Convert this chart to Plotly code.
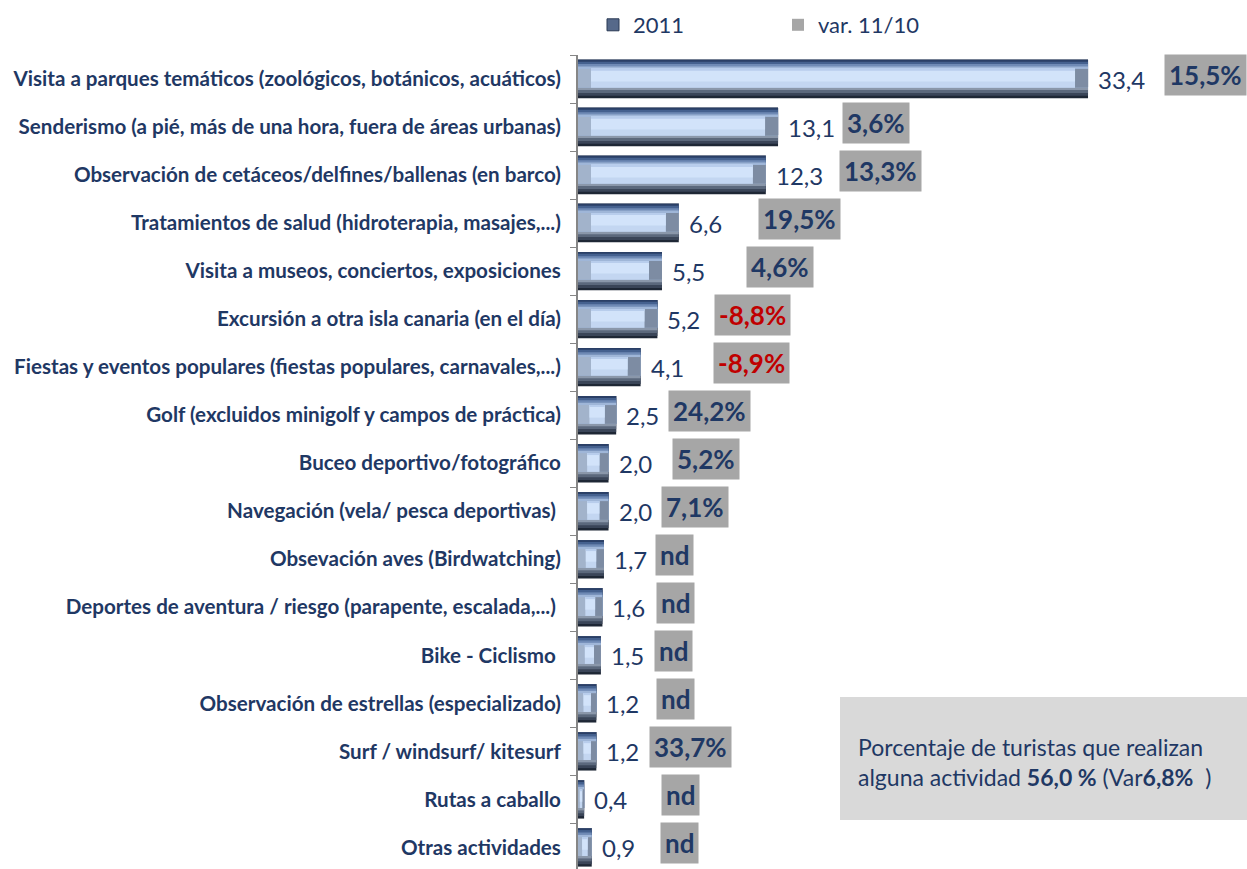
import plotly.graph_objects as go

categories = [
    "Visita a parques temáticos (zoológicos, botánicos, acuáticos)",
    "Senderismo (a pié, más de una hora, fuera de áreas urbanas)",
    "Observación de cetáceos/delfines/ballenas (en barco)",
    "Tratamientos de salud (hidroterapia, masajes,...)",
    "Visita a museos, conciertos, exposiciones",
    "Excursión a otra isla canaria (en el día)",
    "Fiestas y eventos populares (fiestas populares, carnavales,...)",
    "Golf (excluidos minigolf y campos de práctica)",
    "Buceo deportivo/fotográfico",
    "Navegación (vela/ pesca deportivas) ",
    "Obsevación aves (Birdwatching)",
    "Deportes de aventura / riesgo (parapente, escalada,...) ",
    "Bike - Ciclismo ",
    "Observación de estrellas (especializado)",
    "Surf / windsurf/ kitesurf",
    "Rutas a caballo",
    "Otras actividades",
]
values_2011 = [33.4, 13.1, 12.3, 6.6, 5.5, 5.2, 4.1, 2.5, 2.0, 2.0, 1.7, 1.6, 1.5, 1.2, 1.2, 0.4, 0.9]
var_11_10 = [15.5, 3.6, 13.3, 19.5, 4.6, -8.8, -8.9, 24.2, 5.2, 7.1, None, None, None, None, 33.7, None, None]

# styling / placement (pixels) of the var. labels relative to the bar end
var_label_shift_px = [117, 98, 115, 121, 118, 95, 111, 93, 97, 86, 71, 73, 73, 79, 94, 96, 88]

NAVY = "#1F3864"
FONT = "Lato"
PX_PER_UNIT = 15.27
X_MAX = 669 / PX_PER_UNIT

def fmt(v):
    return f"{v:.1f}".replace(".", ",")

fig = go.Figure()

def add_band(xs, a, b, col, base=None):
    fig.add_trace(go.Bar(
        y=categories, x=xs, base=base, orientation="h",
        offset=-0.4 + a, width=b - a,
        marker=dict(color=col, line=dict(width=0)),
        hoverinfo="skip", showlegend=False,
    ))

# bevel-like bar built from nested, overlapping strips (no seams)
for b, col in [(0.80, "#1e2735"), (0.75, "#3a4558"), (0.69, "#5b687c"), (0.63, "#8a97aa")]:
    add_band(values_2011, 0.0, b, col)
for a, col in [(0.0, "#2a3f66"), (0.04, "#45618f"), (0.09, "#6f8ab5"), (0.14, "#9fb6d8")]:
    add_band(values_2011, a, 0.58, col)
add_band(values_2011, 0.19, 0.58, "#a2b3cb")

insets = [min(13 / PX_PER_UNIT, 0.3 * v) for v in values_2011]
# darker right bevel
add_band(insets, 0.19, 0.58, "#7d8ca3", base=[v - i for v, i in zip(values_2011, insets)])
# light inner panel
inner = [v - 2 * i for v, i in zip(values_2011, insets)]
add_band(inner, 0.19, 0.58, "#c3d6f1", base=insets)
add_band(inner, 0.19, 0.45, "#d2e3fa", base=insets)
add_band(inner, 0.19, 0.23, "#b8cdec", base=insets)

# legend entries
fig.add_trace(go.Bar(x=[None], y=[None], orientation="h", name="2011",
                     marker=dict(color="#56698a", line=dict(color="#2a3a55", width=1))))
fig.add_trace(go.Bar(x=[None], y=[None], orientation="h", name="var. 11/10",
                     marker=dict(color="#A6A6A6", line=dict(width=0))))

annotations = []
for cat, v in zip(categories, values_2011):
    annotations.append(dict(
        x=v, y=cat, xref="x", yref="y", text=fmt(v), showarrow=False,
        xanchor="left", xshift=8, font=dict(family=FONT, size=24, color=NAVY),
    ))
for cat, v, var, sh in zip(categories, values_2011, var_11_10, var_label_shift_px):
    if var is None:
        txt, col = "nd", NAVY
    else:
        txt = fmt(var) + "%"
        col = "#C00000" if var < 0 else NAVY
    annotations.append(dict(
        x=v, y=cat, xref="x", yref="y", text=f"<b>{txt}</b>", showarrow=False,
        xanchor="center", xshift=sh, yshift=4,
        font=dict(family=FONT, size=26, color=col),
        bgcolor="#A6A6A6", borderpad=4,
    ))

# info box
H = 814.0
def py(p):
    return (869 - p) / H
annotations.append(dict(
    x=(856 - 578) / 669, y=py(747), xref="paper", yref="paper",
    text="Porcentaje de turistas que realizan", showarrow=False,
    xanchor="left", yanchor="middle", font=dict(family=FONT, size=23, color=NAVY),
))
annotations.append(dict(
    x=(856 - 578) / 669, y=py(777), xref="paper", yref="paper",
    text="alguna actividad <b>56,0 %</b> (Var<b>6,8%</b>  )", showarrow=False,
    xanchor="left", yanchor="middle", font=dict(family=FONT, size=23, color=NAVY),
))

fig.update_layout(
    width=1247, height=869, autosize=False,
    margin=dict(l=578, r=0, t=55, b=0, pad=0),
    paper_bgcolor="white", plot_bgcolor="white",
    barmode="overlay",
    font=dict(family=FONT, color=NAVY),
    showlegend=True,
    legend=dict(orientation="h", x=15 / 669, xanchor="left", y=1 + 30 / H, yanchor="middle",
                font=dict(family=FONT, size=22, color=NAVY),
                entrywidth=140, entrywidthmode="pixels", traceorder="normal",
                bgcolor="rgba(0,0,0,0)"),
    xaxis=dict(range=[0, X_MAX], showgrid=False, zeroline=False, showline=False,
               showticklabels=False, ticks="", fixedrange=True),
    yaxis=dict(type="category", categoryorder="array", categoryarray=categories,
               range=[16.45, -0.5], showgrid=False, zeroline=False,
               showline=True, linecolor="#868686", linewidth=2,
               ticks="outside", ticklen=6, tickcolor="#868686", tickwidth=1,
               tickson="boundaries", ticklabelstandoff=11,
               tickfont=dict(family=FONT, size=20.6, color=NAVY, weight="bold"),
               fixedrange=True),
    shapes=[dict(type="rect", xref="paper", yref="paper",
                 x0=(840 - 578) / 669, x1=1.0, y0=py(820), y1=py(697),
                 fillcolor="#D9D9D9", line=dict(width=0), layer="below")],
    annotations=annotations,
)

fig.write_html("out.html", config={"displayModeBar": False},
               post_script="document.body.style.margin='0';")
